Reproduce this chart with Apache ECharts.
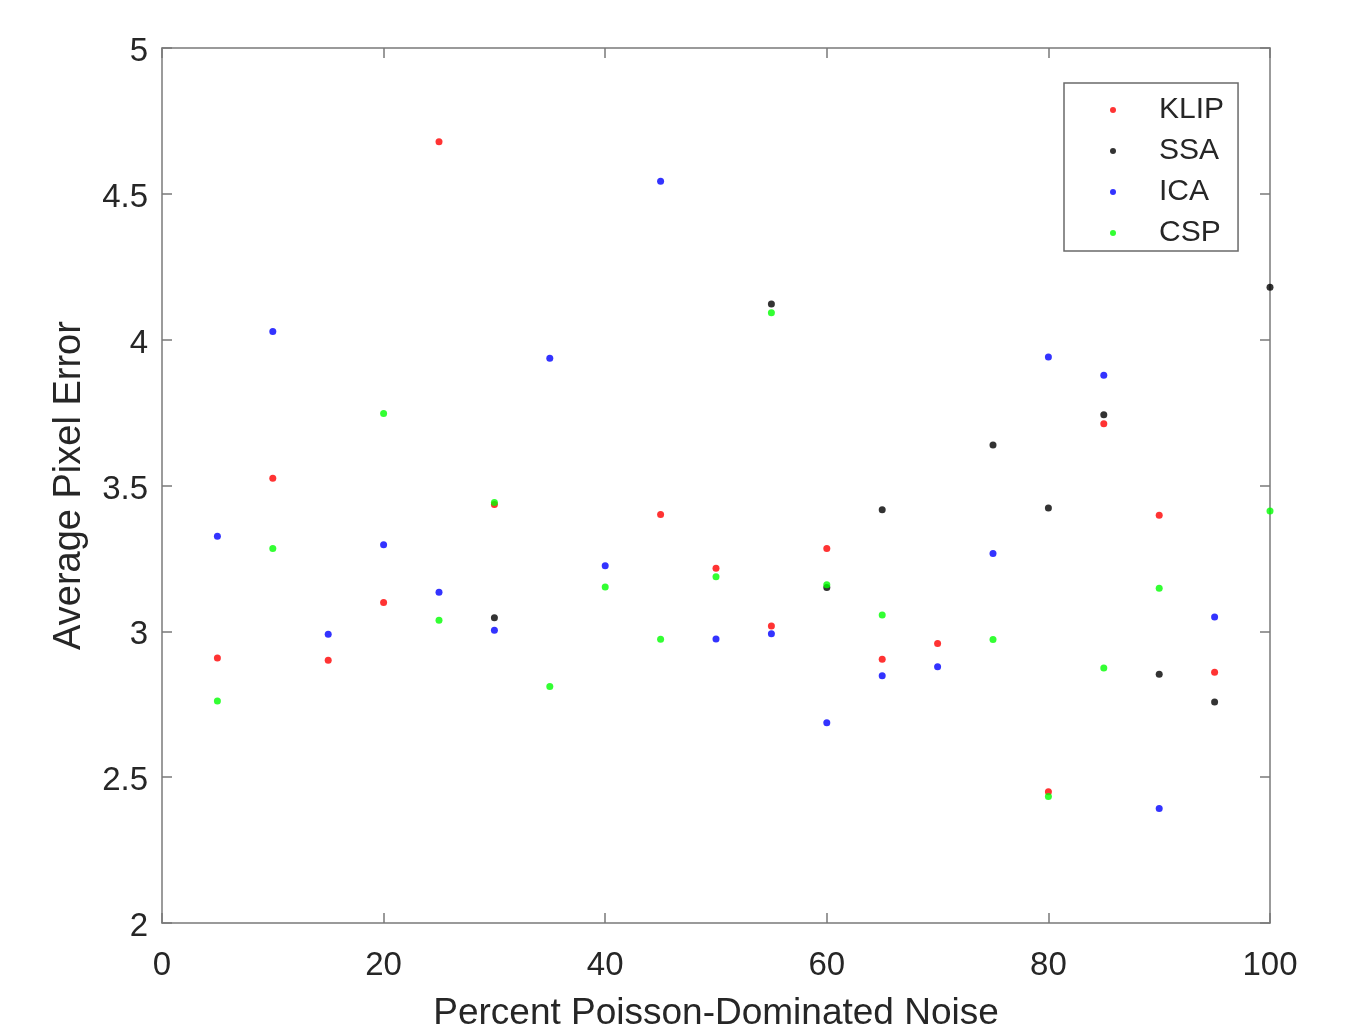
<!DOCTYPE html>
<html>
<head>
<meta charset="utf-8">
<script src="https://cdn.jsdelivr.net/npm/echarts@6/dist/echarts.min.js"></script>
<style>
html,body{margin:0;padding:0;background:#fff;}
#chart{width:1362px;height:1030px;}
</style>
</head>
<body>
<div id="chart"></div>
<script>
// Percent Poisson-dominated noise (x values)
const noisePercent = [5,10,15,20,25,30,35,40,45,50,55,60,65,70,75,80,85,90,95,100];
// Average pixel error per method (null = not visible in the reference)
const klip = [2.909,3.525,2.901,3.099,4.679,3.435,null,null,3.401,3.216,3.018,3.284,2.904,2.958,null,2.450,3.712,3.398,2.860,null];
const ssa  = [null,null,null,null,null,3.047,null,null,null,null,4.122,3.150,3.417,null,3.639,3.423,3.743,2.853,2.758,4.180];
const ica  = [3.326,4.028,2.990,3.297,3.134,3.004,3.936,3.225,4.543,2.974,2.992,2.687,2.848,2.879,3.267,3.941,3.878,2.393,3.049,null];
const csp  = [2.761,3.284,null,3.747,3.038,3.442,2.811,3.152,2.973,3.187,4.092,3.160,3.056,null,2.972,2.434,2.874,3.148,null,3.413];
const seriesNames = ['KLIP','SSA','ICA','CSP'];
const seriesColors = ['#ff0000','#000000','#0000ff','#00ff00'];
const xTicks = [0,20,40,60,80,100];
const yTicks = [2,2.5,3,3.5,4,4.5,5];

function pairs(vals){
  const out=[];
  vals.forEach((v,i)=>{ if(v!==null) out.push([noisePercent[i],v]); });
  return out;
}
const allVals=[klip,ssa,ica,csp];

const axisCol='#7a7a7a';
const textCol='#262626';
const font='Liberation Sans, Arial, Helvetica, sans-serif';

const chart=echarts.init(document.getElementById('chart'),null,{renderer:'canvas'});
const baseX={type:'value',min:xTicks[0],max:xTicks[xTicks.length-1],interval:20,splitLine:{show:false},
  axisLine:{show:true,onZero:false,lineStyle:{color:axisCol,width:1.5}},
  axisTick:{show:true,inside:true,length:10,lineStyle:{color:axisCol,width:1.5}}};
const baseY={type:'value',min:yTicks[0],max:yTicks[yTicks.length-1],interval:0.5,splitLine:{show:false},
  axisLine:{show:true,onZero:false,lineStyle:{color:axisCol,width:1.5}},
  axisTick:{show:true,inside:true,length:10,lineStyle:{color:axisCol,width:1.5}}};

chart.setOption({
  backgroundColor:'#ffffff',
  animation:false,
  grid:{left:162,right:92,top:48,bottom:107,containLabel:false,outerBoundsMode:'none'},
  legend:{
    orient:'vertical',left:1064,top:83,
    data:seriesNames,
    icon:'circle',itemWidth:82,itemHeight:6,itemGap:11,
    padding:[12,14,3,46],
    borderColor:'#6a6a6a',borderWidth:1.5,backgroundColor:'#ffffff',
    textStyle:{fontFamily:font,fontSize:30,color:textCol,lineHeight:30,padding:[0,0,0,0]}
  },
  xAxis:[
    Object.assign({},baseX,{position:'bottom',name:'Percent Poisson-Dominated Noise',nameLocation:'middle',nameGap:72,
      nameTextStyle:{fontFamily:font,fontSize:37,color:textCol},
      axisLabel:{show:true,margin:26,fontFamily:font,fontSize:33,color:textCol,formatter:v=>String(v)}}),
    Object.assign({},baseX,{position:'top',axisLabel:{show:false}})
  ],
  yAxis:[
    Object.assign({},baseY,{position:'left',name:'Average Pixel Error',nameLocation:'middle',nameGap:73,
      nameTextStyle:{fontFamily:font,fontSize:38,color:textCol},
      axisLabel:{show:true,margin:14,fontFamily:font,fontSize:33,color:textCol,formatter:v=>'{v|'+v+'}',
        rich:{v:{fontFamily:font,fontSize:33,color:textCol,padding:[8,0,0,0]}}}}),
    Object.assign({},baseY,{position:'right',axisLabel:{show:false}})
  ],
  series:seriesNames.map((n,i)=>({
    name:n,type:'scatter',xAxisIndex:0,yAxisIndex:0,
    data:pairs(allVals[i]),symbol:'circle',symbolSize:7,
    itemStyle:{color:seriesColors[i]},clip:false
  }))
});
</script>
</body>
</html>
